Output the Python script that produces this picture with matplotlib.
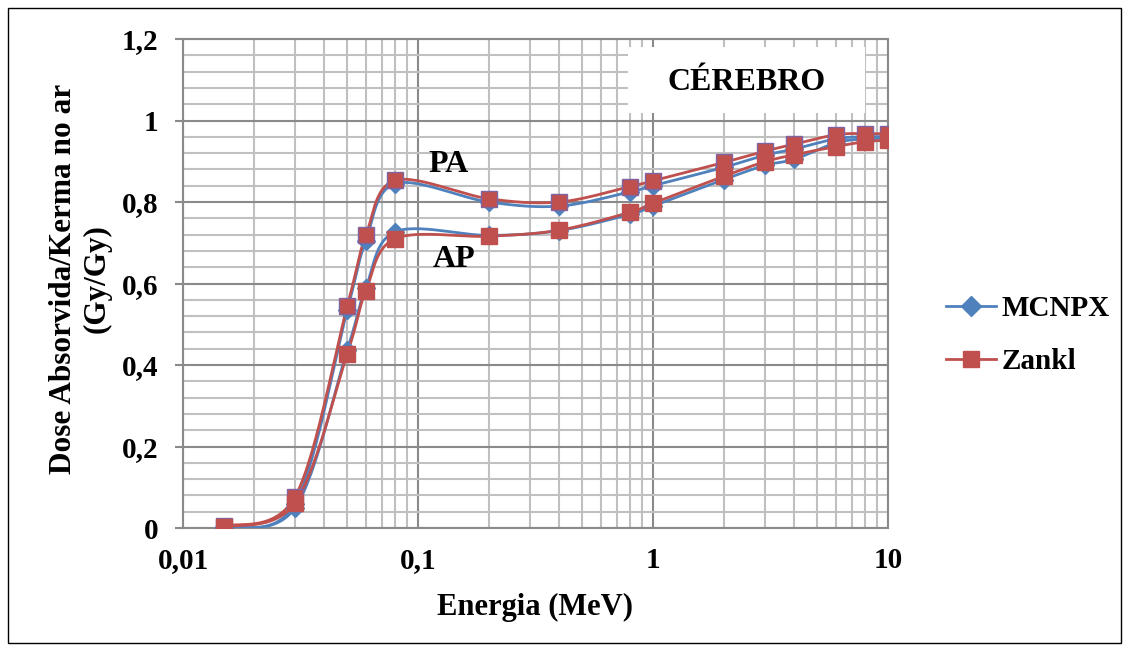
import matplotlib

matplotlib.use("Agg")

import matplotlib.pyplot as plt
import numpy as np
from matplotlib.patches import Rectangle
from matplotlib.lines import Line2D
from matplotlib.ticker import FixedLocator, FixedFormatter, LogLocator, NullFormatter

plt.rcParams["font.family"] = ["Liberation Serif", "DejaVu Serif"]
plt.rcParams["font.weight"] = "bold"

energy = [0.015, 0.03, 0.05, 0.06, 0.08, 0.2, 0.4, 0.8, 1, 2, 3, 4, 6, 8, 10]

mcnpx_pa = [0.002, 0.06, 0.535, 0.705, 0.845, 0.80, 0.79, 0.825, 0.84, 0.885, 0.915, 0.93, 0.955, 0.96, 0.96]
mcnpx_ap = [0.0, 0.05, 0.437, 0.59, 0.727, 0.718, 0.73, 0.77, 0.79, 0.855, 0.89, 0.905, 0.945, 0.955, 0.957]
zankl_pa = [0.004, 0.077, 0.545, 0.718, 0.853, 0.808, 0.80, 0.838, 0.852, 0.897, 0.925, 0.942, 0.965, 0.968, 0.967]
zankl_ap = [0.002, 0.062, 0.428, 0.582, 0.71, 0.716, 0.731, 0.775, 0.797, 0.863, 0.899, 0.916, 0.936, 0.948, 0.952]

x_ticks = [0.01, 0.1, 1, 10]
x_labels = ["0,01", "0,1", "1", "10"]
y_ticks = [0, 0.2, 0.4, 0.6, 0.8, 1.0, 1.2]
y_labels = ["0", "0,2", "0,4", "0,6", "0,8", "1", "1,2"]

BLUE = "#4F81BD"
RED = "#C0504D"
PURPLE = "#8064A2"
MAJOR = "#8a8a8a"
MINOR = "#c0c0c0"


def smooth(ax, xs, ys, n=30):
    # Excel-like smoothed line: Catmull-Rom in display space
    pts = ax.transData.transform(np.column_stack([xs, ys]))
    p = np.vstack([pts[0], pts, pts[-1]])
    out = []
    for i in range(1, len(p) - 2):
        p0, p1, p2, p3 = p[i - 1], p[i], p[i + 1], p[i + 2]
        t = np.linspace(0, 1, n)[:, None]
        seg = 0.5 * ((2 * p1) + (-p0 + p2) * t + (2 * p0 - 5 * p1 + 4 * p2 - p3) * t ** 2
                     + (-p0 + 3 * p1 - 3 * p2 + p3) * t ** 3)
        out.append(seg)
    out = np.vstack(out)
    return ax.transData.inverted().transform(out).T


fig = plt.figure(figsize=(11.29, 6.51), dpi=100)
ax = fig.add_axes([0.1621, 0.1889, 0.6244, 0.7512])
ax.set_xscale("log")
ax.set_xlim(0.01, 10)
ax.set_ylim(0, 1.2)

ax.xaxis.set_major_locator(FixedLocator(x_ticks))
ax.xaxis.set_major_formatter(FixedFormatter(x_labels))
ax.xaxis.set_minor_locator(LogLocator(base=10, subs=np.arange(2, 10)))
ax.xaxis.set_minor_formatter(NullFormatter())
ax.yaxis.set_major_locator(FixedLocator(y_ticks))
ax.yaxis.set_major_formatter(FixedFormatter(y_labels))
ax.yaxis.set_minor_locator(FixedLocator(np.arange(0, 1.21, 0.04)))

ax.grid(which="major", color=MAJOR, lw=1.5)
ax.grid(which="minor", color=MINOR, lw=1.5)
ax.set_axisbelow(True)
for s in ax.spines.values():
    s.set_color(MAJOR)
    s.set_linewidth(1.5)

ax.tick_params(axis="y", which="major", length=6, width=1.5, color=MAJOR, labelsize=21, pad=12)
ax.tick_params(axis="x", which="major", length=0, labelsize=21, pad=14)
ax.tick_params(which="minor", length=0)
for lab in ax.get_xticklabels() + ax.get_yticklabels():
    lab.set_fontweight("bold")

fig.canvas.draw()

series = [
    (mcnpx_pa, BLUE, "D", BLUE, 9),
    (mcnpx_ap, BLUE, "D", BLUE, 9),
    (zankl_pa, RED, "s", PURPLE, 12),
    (zankl_ap, RED, "s", RED, 12),
]
for vals, col, mk, ec, ms in series:
    sx, sy = smooth(ax, energy, vals)
    ax.plot(sx, sy, color=col, lw=2.0, zorder=3)
for vals, col, mk, ec, ms in series:
    ax.plot(energy, vals, ls="none", marker=mk, ms=ms, color=col,
            markeredgecolor=ec, markeredgewidth=1.0, zorder=4)

ax.set_xlabel("Energia (MeV)", fontsize=22, fontweight="bold", labelpad=13)
ax.set_ylabel("Dose Absorvida/Kerma no ar\n(Gy/Gy)", fontsize=22.5, fontweight="bold",
              linespacing=1.2)
ax.yaxis.set_label_coords(-0.101, 0.51)

ax.text(0.135, 0.893, "PA", fontsize=23, fontweight="bold", ha="center", va="center", zorder=5)
ax.text(0.143, 0.66, "AP", fontsize=23, fontweight="bold", ha="center", va="center", zorder=5)

fig.patches.append(Rectangle((628 / 1129, 1 - 113 / 651), 237 / 1129, 66 / 651,
                             transform=fig.transFigure, facecolor="white",
                             edgecolor="none", zorder=3))
fig.text(747 / 1129, 1 - 82 / 651, "CÉREBRO", fontsize=23, fontweight="bold",
         ha="center", va="center", zorder=4)

handles = [
    Line2D([], [], color=BLUE, lw=2.0, marker="D", ms=10),
    Line2D([], [], color=RED, lw=2.0, marker="s", ms=12),
]
fig.legend(handles, ["MCNPX", "Zankl"], loc="center left",
           bbox_to_anchor=(0.815, 0.485), frameon=False,
           handlelength=1.7, labelspacing=0.9, handletextpad=0.2,
           prop={"weight": "bold", "size": 21})

fig.patches.append(Rectangle((8 / 1129, 8 / 651), 1113 / 1129, 635 / 651,
                             transform=fig.transFigure, facecolor="none",
                             edgecolor="black", lw=1.0))

fig.savefig("out.png", dpi=100)
